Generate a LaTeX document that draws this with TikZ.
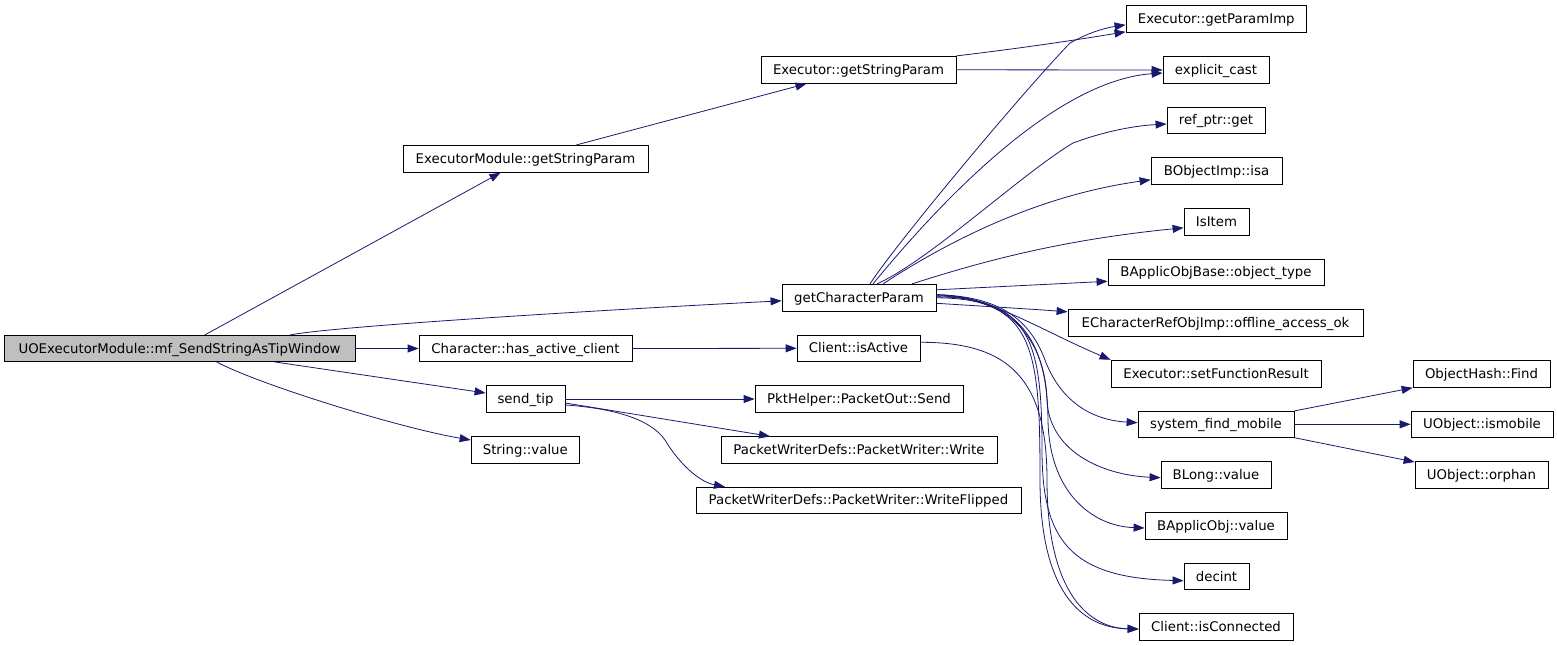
\documentclass[tikz,border=0pt]{standalone}
\usepackage{fontspec}
\setmainfont{DejaVu Sans}
\usetikzlibrary{arrows.meta,calc}
\definecolor{edgeblue}{HTML}{191970}
\definecolor{mainfill}{HTML}{BFBFBF}
\begin{document}
\begin{tikzpicture}[x=1pt,y=-1pt,
  box/.style={draw=black, line width=0.8pt, fill=white, inner sep=0pt,
    text height=10.5pt, text depth=1.5pt, font=\fontsize{13.3}{15}\selectfont},
  link/.style={draw=edgeblue, line width=0.8pt, -{Triangle[length=11pt,width=8pt]}}]
\useasboundingbox (0,0) rectangle (1557,645);
% nodes
\node[box, fill=mainfill, minimum width=351pt, minimum height=26pt] (main) at (179.5,348.5) {UOExecutorModule::mf\_SendStringAsTipWindow};
\node[box, minimum width=245pt, minimum height=27pt] (esp) at (525.5,158.8) {ExecutorModule::getStringParam};
\node[box, minimum width=195pt, minimum height=27pt] (xsp) at (858.5,69.8) {Executor::getStringParam};
\node[box, minimum width=154pt, minimum height=27pt] (gcp) at (859,297.8) {getCharacterParam};
\node[box, minimum width=213pt, minimum height=26pt] (hac) at (525.5,348.5) {Character::has\_active\_client};
\node[box, minimum width=123pt, minimum height=26pt] (isa) at (858.5,348.3) {Client::isActive};
\node[box, minimum width=79pt, minimum height=26.6pt] (st) at (525.5,399) {send\_tip};
\node[box, minimum width=108.5pt, minimum height=26.6pt] (sv) at (525.3,450) {String::value};
\node[box, minimum width=208pt, minimum height=26.6pt] (pos) at (859,399) {PktHelper::PacketOut::Send};
\node[box, minimum width=276pt, minimum height=26.6pt] (pw) at (859,450) {PacketWriterDefs::PacketWriter::Write};
\node[box, minimum width=325pt, minimum height=26pt] (pwf) at (858.5,500.3) {PacketWriterDefs::PacketWriter::WriteFlipped};
\node[box, minimum width=180.7pt, minimum height=27pt] (gpi) at (1216.3,18.8) {Executor::getParamImp};
\node[box, minimum width=106pt, minimum height=26.6pt] (ec) at (1216,70) {explicit\_cast};
\node[box, minimum width=98pt, minimum height=26pt] (rpg) at (1216,120.3) {ref\_ptr::get};
\node[box, minimum width=131pt, minimum height=27pt] (boi) at (1216.5,170.8) {BObjectImp::isa};
\node[box, minimum width=65pt, minimum height=27pt] (ii) at (1216.5,221.8) {IsItem};
\node[box, minimum width=216pt, minimum height=26pt] (aob) at (1216,272.3) {BApplicObjBase::object\_type};
\node[box, minimum width=295pt, minimum height=27pt] (ecr) at (1215.5,322.8) {ECharacterRefObjImp::offline\_access\_ok};
\node[box, minimum width=210pt, minimum height=27pt] (sfr) at (1216,373.8) {Executor::setFunctionResult};
\node[box, minimum width=156pt, minimum height=26pt] (sfm) at (1216,424.3) {system\_find\_mobile};
\node[box, minimum width=110pt, minimum height=26.6pt] (bl) at (1216,475) {BLong::value};
\node[box, minimum width=142pt, minimum height=26.6pt] (bao) at (1216,526) {BApplicObj::value};
\node[box, minimum width=65pt, minimum height=25.6pt] (di) at (1216.5,576.5) {decint};
\node[box, minimum width=154pt, minimum height=26.6pt] (ic) at (1216,627) {Client::isConnected};
\node[box, minimum width=137pt, minimum height=27pt] (ohf) at (1481.5,373.8) {ObjectHash::Find};
\node[box, minimum width=142pt, minimum height=26pt] (uom) at (1482,424.3) {UObject::ismobile};
\node[box, minimum width=133pt, minimum height=26.6pt] (uoo) at (1481.5,475) {UObject::orphan};
% edges from main
\draw[link] ([xshift=25pt]main.north) -- ([xshift=-25pt]esp.south);
\draw[link] ([xshift=110pt]main.north) .. controls (330,326.5) and (600,310) .. ([yshift=-3pt]gcp.west);
\draw[link] (main.east) -- (hac.west);
\draw[link] ([xshift=95pt]main.south) -- ([yshift=6pt]st.west);
\draw[link] ([xshift=37pt]main.south) .. controls (260,385) and (400,428) .. ([yshift=10pt]sv.west);
% ExecutorModule::getStringParam
\draw[link] ([xshift=51pt]esp.north) -- ([xshift=-52pt]xsp.south);
% Executor::getStringParam
\draw[link] (xsp.north east) .. controls (1040,46) and (1100,36) .. ([yshift=-13pt]gpi.west);
\draw[link] (xsp.east) -- (ec.west);
% getCharacterParam
\draw[link] ([xshift=11pt]gcp.north) .. controls (895,245) and (1020,95) .. (1070,43) .. controls (1090,32) and (1105,28) .. ([yshift=-6pt]gpi.west);
\draw[link] ([xshift=14pt]gcp.north) .. controls (950,190) and (1060,80) .. ([yshift=-3pt]ec.west);
\draw[link] ([xshift=18pt]gcp.north) .. controls (930,260) and (1020,175) .. (1073,143) .. controls (1100,133) and (1130,126) .. ([yshift=-3.7pt]rpg.west);
\draw[link] ([xshift=24pt]gcp.north) .. controls (950,240) and (1040,195) .. ([yshift=-9pt]boi.west);
\draw[link] ([xshift=53pt]gcp.north) .. controls (980,262) and (1060,240) .. ([yshift=-6pt]ii.west);
\draw[link] ([yshift=8pt]gcp.east) -- ([yshift=-9pt]aob.west);
\draw[link] ([yshift=-5.5pt]gcp.east) .. controls (980,306) and (1030,309) .. ([yshift=11pt]ecr.west);
\draw[link] ([yshift=3pt]gcp.east) .. controls (990,296) and (1040,330) .. ([yshift=14pt]sfr.west);
\draw[link] ([yshift=3pt]gcp.east) .. controls (1000,296) and (1030,320) .. (1045,360) .. controls (1060,400) and (1090,420) .. ([yshift=1.6pt]sfm.west);
\draw[link] ([yshift=3pt]gcp.east) .. controls (1010,296) and (1045,340) .. (1047,400) .. controls (1049,450) and (1100,475) .. ([yshift=-2.7pt]bl.west);
\draw[link] ([yshift=2pt]gcp.east) .. controls (1020,298) and (1047,340) .. (1048,420) .. controls (1049,490) and (1090,526) .. ([yshift=-2pt]bao.west);
\draw[link] ([yshift=1pt]gcp.east) .. controls (1030,298) and (1042,340) .. (1042,450) .. controls (1042,540) and (1070,578) .. ([yshift=-4.2pt]di.west);
\draw[link] (gcp.east) .. controls (1035,298) and (1040,350) .. (1040,480) .. controls (1040,590) and (1080,628) .. ([yshift=-2pt]ic.west);
% has_active_client / isActive
\draw[link] (hac.east) -- (isa.west);
\draw[link] ([yshift=6pt]isa.east) .. controls (1010,342) and (1047,380) .. (1047,480) .. controls (1047,595) and (1090,628) .. ([yshift=-2pt]ic.west);
% send_tip
\draw[link] (st.east) -- (pos.west);
\draw[link] ([yshift=-4pt]st.east) -- ([xshift=-89pt]pw.north);
\draw[link] ([yshift=-6pt]st.east) .. controls (610,408) and (650,418) .. (665,440) .. controls (680,465) and (700,482) .. ([xshift=-133.5pt]pwf.north);
% system_find_mobile
\draw[link] (sfm.north east) -- ([yshift=-14pt]ohf.west);
\draw[link] (sfm.east) -- (uom.west);
\draw[link] (sfm.south east) -- ([yshift=13pt]uoo.west);
\end{tikzpicture}
\end{document}
